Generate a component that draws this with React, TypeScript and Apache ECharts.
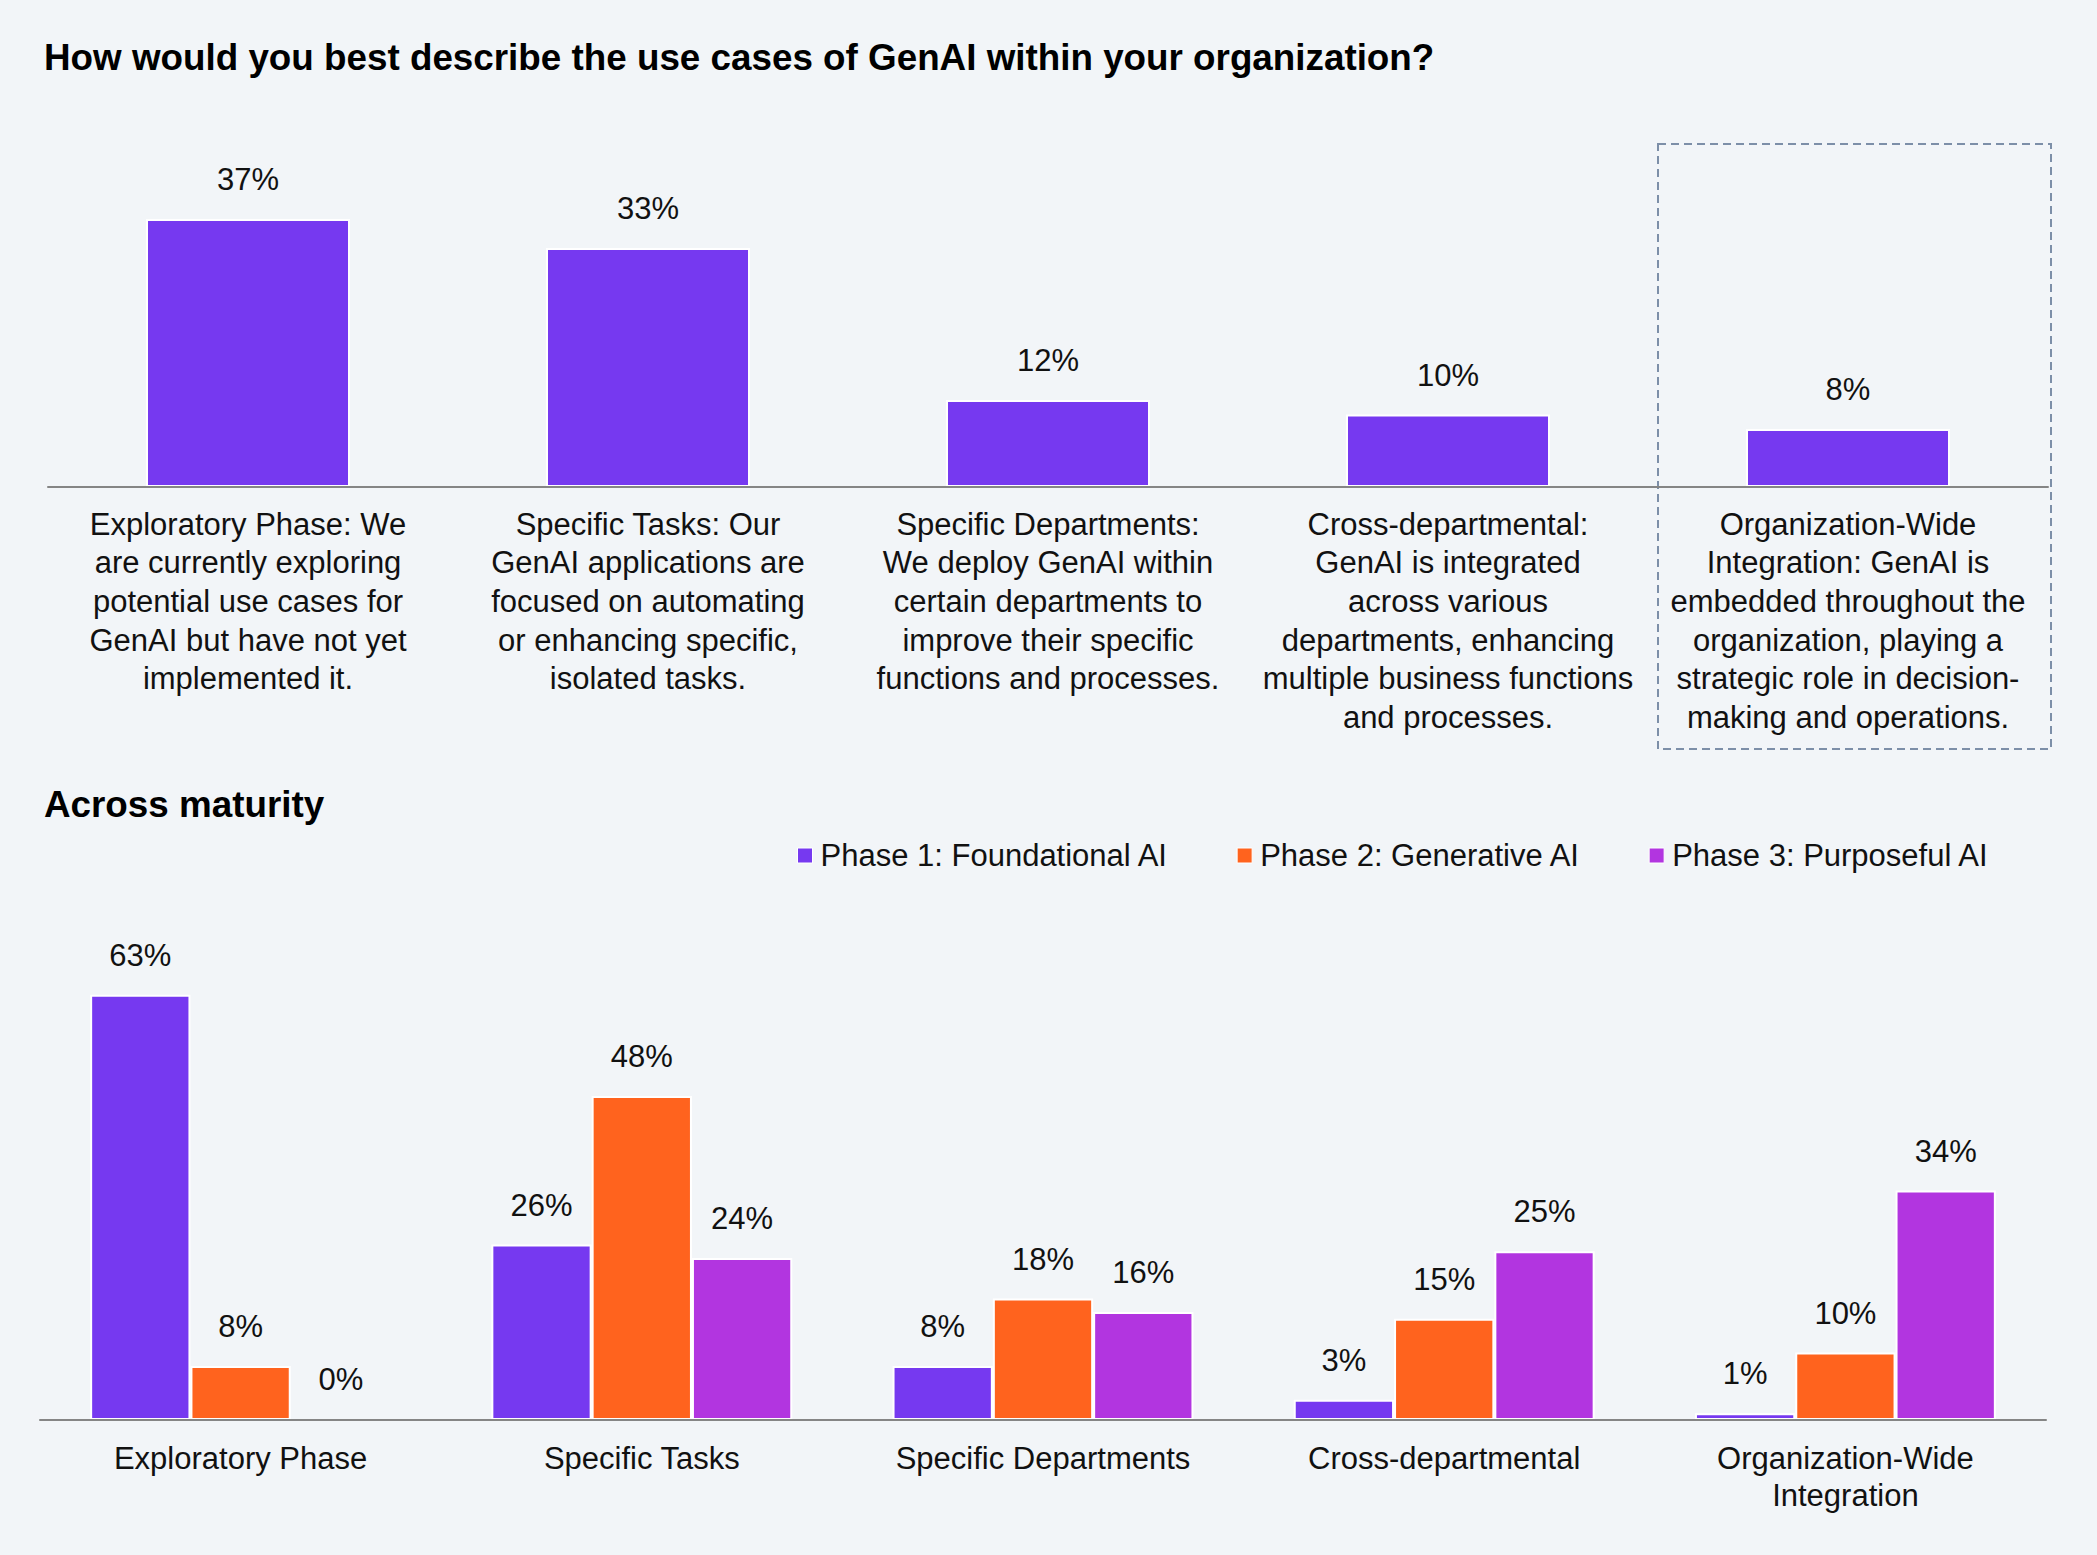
import React, { useEffect, useRef } from "react";
import * as echarts from "echarts";

// Overall distribution of GenAI use cases
const useCaseLabels = [
  "Exploratory Phase: We\nare currently exploring\npotential use cases for\nGenAI but have not yet\nimplemented it.",
  "Specific Tasks: Our\nGenAI applications are\nfocused on automating\nor enhancing specific,\nisolated tasks.",
  "Specific Departments:\nWe deploy GenAI within\ncertain departments to\nimprove their specific\nfunctions and processes.",
  "Cross-departmental:\nGenAI is integrated\nacross various\ndepartments, enhancing\nmultiple business functions\nand processes.",
  "Organization-Wide\nIntegration: GenAI is\nembedded throughout the\norganization, playing a\nstrategic role in decision-\nmaking and operations.",
];
const overallShare = [37, 33, 12, 10, 8];

// Breakdown by maturity phase
const maturityCategories = [
  "Exploratory Phase",
  "Specific Tasks",
  "Specific Departments",
  "Cross-departmental",
  "Organization-Wide\nIntegration",
];
const phaseNames = [
  "Phase 1: Foundational AI",
  "Phase 2: Generative AI",
  "Phase 3: Purposeful AI",
];
const phase1 = [63, 26, 8, 3, 1];
const phase2 = [8, 48, 18, 15, 10];
const phase3 = [0, 24, 16, 25, 34];

const PURPLE = "#7639f0";
const ORANGE = "#ff631e";
const MAGENTA = "#b235e0";
const TEXT = "#111111";
const FONT = "'Liberation Sans', Arial, Helvetica, sans-serif";
const FS = 31;

export default function App() {
  const ref = useRef<HTMLDivElement>(null);

  useEffect(() => {
    if (!ref.current) return;
    const chart = echarts.init(ref.current, null, { renderer: "svg" });

    const valueLabel = {
      show: true,
      position: "top",
      distance: 24,
      formatter: "{c}%",
      fontSize: FS,
      fontFamily: FONT,
      color: TEXT,
    };
    const barBorder = { borderColor: "#ffffff", borderWidth: 2 };
    const axisLine = { lineStyle: { color: "#858585", width: 2 } };

    chart.setOption({
      animation: false,
      backgroundColor: "#f2f5f8",
      textStyle: { fontFamily: FONT },
      graphic: [
        {
          type: "text",
          style: {
            text: "How would you best describe the use cases of GenAI within your organization?",
            x: 44,
            y: 57,
            fontSize: 36.8,
            fontWeight: "bold",
            fontFamily: FONT,
            fill: "#000000",
            verticalAlign: "middle",
          },
        },
        {
          type: "text",
          style: {
            text: "Across maturity",
            x: 44,
            y: 804,
            fontSize: 36.8,
            fontWeight: "bold",
            fontFamily: FONT,
            fill: "#000000",
            verticalAlign: "middle",
          },
        },
        {
          type: "rect",
          shape: { x: 1658, y: 144, width: 393, height: 605 },
          style: {
            fill: "none",
            stroke: "#7d8fa8",
            lineWidth: 2,
            lineDash: [8, 5],
          },
        },
      ],
      legend: {
        data: phaseNames,
        left: 792,
        top: 835,
        itemWidth: 15,
        itemHeight: 15,
        itemGap: 68,
        icon: "rect",
        itemStyle: { borderColor: "#ffffff", borderWidth: 1 },
        textStyle: {
          fontSize: FS,
          fontFamily: FONT,
          color: TEXT,
          padding: [0, 0, 0, 3],
        },
      },
      grid: [
        { left: 48, right: 49, top: 197.4, bottom: 1068 },
        { left: 40, right: 51, top: 947.5, bottom: 135 },
      ],
      xAxis: [
        {
          type: "category",
          gridIndex: 0,
          z: 5,
          data: useCaseLabels,
          axisLine,
          axisTick: { show: false },
          axisLabel: {
            interval: 0,
            margin: 18,
            fontSize: FS,
            lineHeight: 38.6,
            color: TEXT,
            fontFamily: FONT,
            align: "center",
          },
        },
        {
          type: "category",
          gridIndex: 1,
          z: 5,
          data: maturityCategories,
          axisLine,
          axisTick: { show: false },
          axisLabel: {
            interval: 0,
            margin: 20,
            fontSize: FS,
            lineHeight: 37,
            color: TEXT,
            fontFamily: FONT,
            align: "center",
          },
        },
      ],
      yAxis: [
        { type: "value", gridIndex: 0, min: 0, max: 40, show: false, splitLine: { show: false } },
        { type: "value", gridIndex: 1, min: 0, max: 70, show: false, splitLine: { show: false } },
      ],
      series: [
        {
          name: "All respondents",
          type: "bar",
          xAxisIndex: 0,
          yAxisIndex: 0,
          data: overallShare,
          barWidth: "51%",
          itemStyle: { color: PURPLE, ...barBorder },
          label: valueLabel,
        },
        {
          name: phaseNames[0],
          type: "bar",
          xAxisIndex: 1,
          yAxisIndex: 1,
          data: phase1,
          barGap: "0%",
          barCategoryGap: "25%",
          itemStyle: { color: PURPLE, ...barBorder },
          label: valueLabel,
        },
        {
          name: phaseNames[1],
          type: "bar",
          xAxisIndex: 1,
          yAxisIndex: 1,
          data: phase2,
          barGap: "0%",
          barCategoryGap: "25%",
          itemStyle: { color: ORANGE, ...barBorder },
          label: valueLabel,
        },
        {
          name: phaseNames[2],
          type: "bar",
          xAxisIndex: 1,
          yAxisIndex: 1,
          data: phase3,
          barGap: "0%",
          barCategoryGap: "25%",
          itemStyle: { color: MAGENTA, ...barBorder },
          label: valueLabel,
        },
      ],
    });

    return () => chart.dispose();
  }, []);

  return (
    <div
      ref={ref}
      style={{
        position: "absolute",
        left: 0,
        top: 0,
        width: 2097,
        height: 1555,
        background: "#f2f5f8",
      }}
    />
  );
}
